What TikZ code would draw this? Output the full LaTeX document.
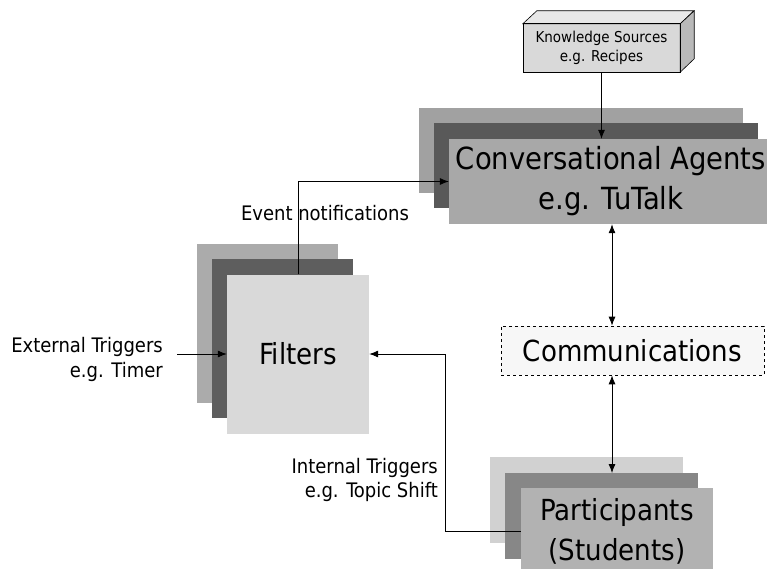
\documentclass[tikz,border=0pt]{standalone}
\usepackage{fontspec}
\setmainfont{DejaVu Sans Condensed}
\usetikzlibrary{arrows.meta}

\tikzset{
  layer/.style={draw=none, inner sep=0pt, anchor=north west},
  panel/.style={draw=none, inner sep=0pt, align=center},
  bigtext/.style={font=\fontsize{29}{40}\selectfont},
  lbl/.style={font=\fontsize{20}{24.5}\selectfont, inner sep=0pt, align=right},
  link/.style={line width=0.8pt, -{Latex[length=9pt,width=7pt]}},
  dlink/.style={line width=0.8pt, {Latex[length=9pt,width=7pt]}-{Latex[length=9pt,width=7pt]}},
}

\begin{document}
\begin{tikzpicture}[x=1pt, y=-1pt]
  \useasboundingbox (0,0) rectangle (767,569);
  \clip (0,0) rectangle (767,569);

  % Knowledge sources: a 3-D block
  \node[panel, fill=gray!30, minimum width=157pt, minimum height=48pt,
        font=\fontsize{15}{19}\selectfont] (ks) at (601.5,48)
        {Knowledge Sources\\e.g. Recipes};
  \filldraw[fill=gray!18, draw=black, line width=0.6pt]
    (ks.north west) -- ++(14,-13) -- ++(157,0) -- (ks.north east) -- cycle;
  \filldraw[fill=gray!55, draw=black, line width=0.6pt]
    (ks.north east) -- ++(14,-13) -- ++(0,48) -- (ks.south east) -- cycle;
  \draw[line width=0.6pt] (ks.north west) rectangle (ks.south east);

  % Conversational agents stack
  \node[layer, fill=black!37, minimum width=324pt, minimum height=85pt] (convB) at (419,108) {};
  \node[layer, fill=black!65, minimum width=324pt, minimum height=85pt] (convM) at (434,123) {};
  \node[panel, font=\fontsize{30.5}{40}\selectfont, fill=black!34,
        minimum width=324pt, minimum height=85pt] (conv) at (611,181.5)
        {Conversational Agents\\e.g. TuTalk};

  % Filters stack
  \node[layer, fill=black!33, minimum width=141pt, minimum height=159pt] (filtB) at (197,244) {};
  \node[layer, fill=black!63, minimum width=141pt, minimum height=159pt] (filtM) at (212,259) {};
  \node[panel, bigtext, fill=black!15, minimum width=142pt, minimum height=159pt] (filt) at (298,354)
        {Filters};

  % Communications
  \node[panel, bigtext, fill=black!3, draw=black, dashed, line width=0.7pt,
        minimum width=263pt, minimum height=49pt] (comm) at (632.5,350.5) {Communications};

  % Participants stack
  \node[layer, fill=black!18, minimum width=193pt, minimum height=86pt] (partB) at (490,457) {};
  \node[layer, fill=black!47, minimum width=193pt, minimum height=86pt] (partM) at (505,473) {};
  \node[panel, bigtext, fill=black!30, minimum width=192pt, minimum height=86pt] (part) at (617,531)
        {Participants\\(Students)};

  % Labels
  \node[lbl, anchor=east] (ext) at (163,359.5) {External Triggers\\e.g. Timer};
  \node[lbl, anchor=east] (int) at (438,480) {Internal Triggers\\e.g. Topic Shift};
  \node[lbl] (evt) at (325,213) {Event notifications};

  % Connectors
  \coordinate (extstart) at (177,354);
  \coordinate (bend) at (445,531);
  \coordinate (axis) at (612,0);
  \draw[link] (ks.south) -- (ks.south |- conv.north);
  \draw[link] (filt.north) |- (conv.west);
  \draw[link] (extstart) -- (filt.west);
  \draw[link] (part.west) -- (bend) |- (filt.east);
  \draw[dlink] (axis |- conv.south) -- (axis |- comm.north);
  \draw[dlink] (axis |- comm.south) -- (axis |- partM.north);
\end{tikzpicture}
\end{document}
